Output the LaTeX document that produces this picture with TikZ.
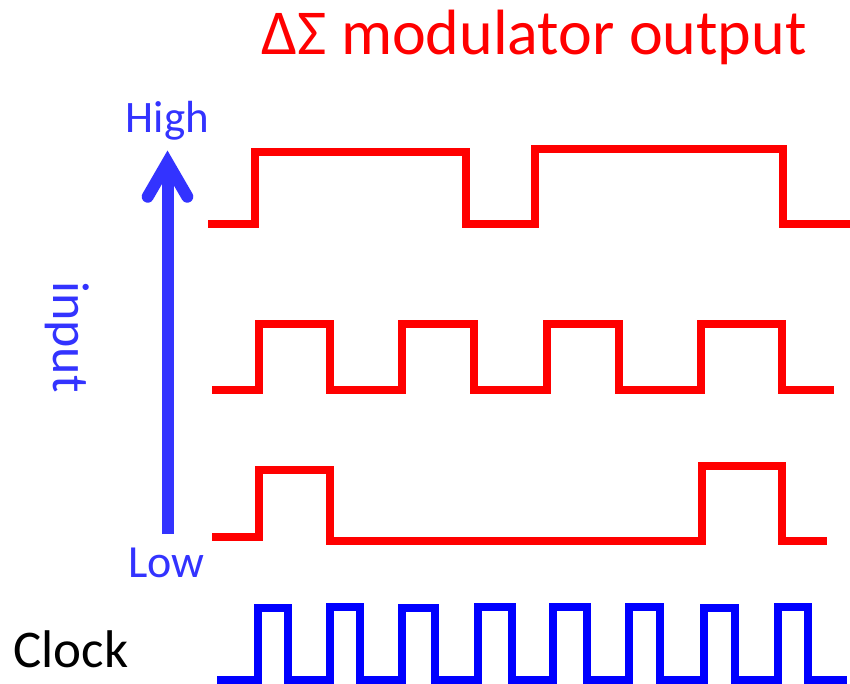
\documentclass[tikz,border=0pt]{standalone}
\usepackage{fontspec}
\setmainfont{Carlito}
\definecolor{wred}{RGB}{255,0,0}
\definecolor{wblue}{RGB}{0,0,255}
\definecolor{ablue}{RGB}{51,51,255}
\tikzset{
  wave/.style={line width=7.5pt, line join=miter, line cap=butt},
  redwave/.style={wave, draw=wred},
  clockwave/.style={wave, draw=wblue},
  arrowline/.style={draw=ablue, line width=12pt},
  lbl/.style={inner sep=0pt, outer sep=0pt},
}
\begin{document}
\begin{tikzpicture}[x=1pt, y=-1pt]
\useasboundingbox (0,0) rectangle (850,684);
% title
\node[lbl, anchor=base, text=wred, font=\fontsize{64}{72}\selectfont] (title) at (534,55) {ΔΣ modulator output};
% labels
\node[lbl, anchor=base, text=ablue, font=\fontsize{45}{54}\selectfont] (high) at (167.5,133) {High};
\node[lbl, anchor=base, text=ablue, font=\fontsize{46}{54}\selectfont] (low) at (166.5,577) {Low};
\node[lbl, anchor=base, rotate=-90, text=ablue, font=\fontsize{52}{60}\selectfont] (input) at (53,337) {input};
\node[lbl, anchor=base, text=black, font=\fontsize{53}{60}\selectfont] (clock) at (71,667) {Clock};
% input arrow
\coordinate (abot) at (167.5,534);
\coordinate (atip) at (167.5,162.5);
\draw[arrowline, line cap=butt] (abot) -- (atip);
\draw[arrowline, line cap=round, line join=miter]
  ([shift={(-19.8,34.2)}]atip) -- (atip) -- ([shift={(19.8,34.2)}]atip);
% waveform 1
\draw[redwave] (208,224) -- (255,224) -- (255,152) -- (466,152) -- (466,224)
  -- (535,224) -- (535,149) -- (783,149) -- (783,224) -- (850,224);
% waveform 2
\draw[redwave] (212,390) -- (259,390) -- (259,324) -- (330,324) -- (330,390)
  -- (402,390) -- (402,324) -- (474,324) -- (474,390)
  -- (547,390) -- (547,324) -- (619,324) -- (619,390)
  -- (701,390) -- (701,324) -- (782,324) -- (782,390) -- (834,390);
% waveform 3
\draw[redwave] (212,537) -- (259,537) -- (259,470) -- (330,470) -- (330,541)
  -- (702,541) -- (702,466) -- (782,466) -- (782,541) -- (827,541);
% clock
\draw[clockwave] (217,680) -- (258,680) -- (258,608) -- (288,608) -- (288,680)
  -- (330,680) -- (330,607) -- (360,607) -- (360,680)
  -- (402,680) -- (402,608) -- (435,608) -- (435,680)
  -- (478,680) -- (478,607) -- (512,607) -- (512,680)
  -- (553,680) -- (553,607) -- (587,607) -- (587,680)
  -- (629,680) -- (629,607) -- (660,607) -- (660,680)
  -- (704,680) -- (704,608) -- (735,608) -- (735,680)
  -- (778,680) -- (778,607) -- (808,607) -- (808,680) -- (847,680);
\end{tikzpicture}
\end{document}
